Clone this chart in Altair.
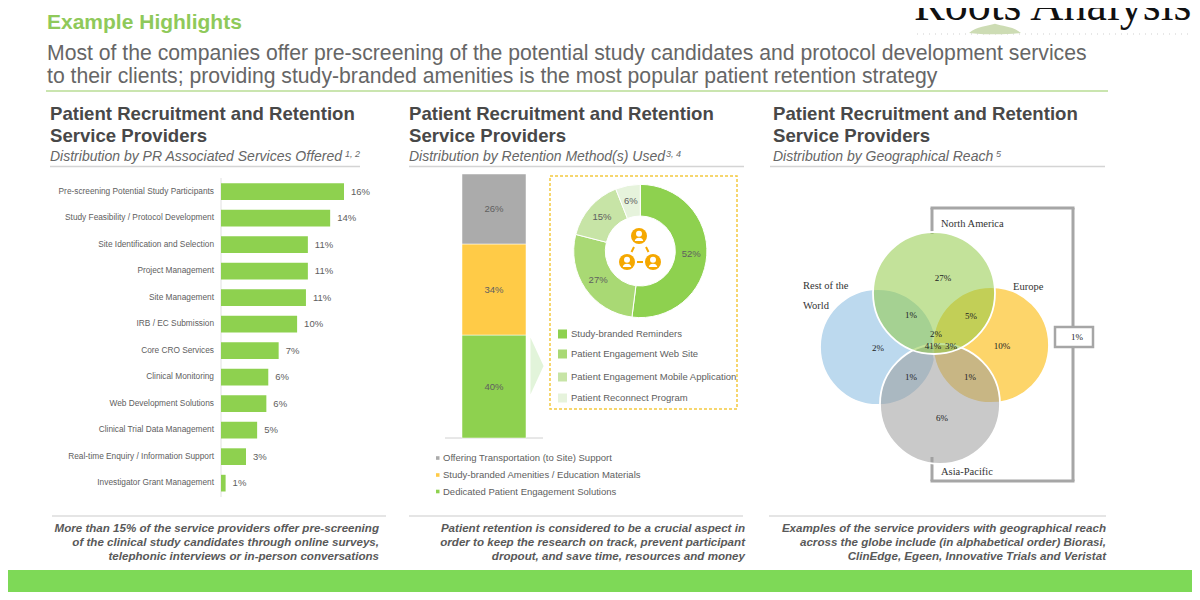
import altair as alt

# ---------- data ----------
services = ["Pre-screening Potential Study Participants", "Study Feasibility / Protocol Development",
            "Site Identification and Selection", "Project Management", "Site Management",
            "IRB / EC Submission", "Core CRO Services", "Clinical Monitoring",
            "Web Development Solutions", "Clinical Trial Data Management",
            "Real-time Enquiry / Information Support", "Investigator Grant Management"]
service_values = [16.0, 14.2, 11.3, 11.3, 11.05, 9.9, 7.5, 6.15, 5.9, 4.7, 3.25, 0.6]
service_labels = ["16%", "14%", "11%", "11%", "11%", "10%", "7%", "6%", "6%", "5%", "3%", "1%"]

methods = ["Dedicated Patient Engagement Solutions", "Study-branded Amenities / Education Materials",
           "Offering Transportation (to Site) Support"]
method_values = [39.0, 34.5, 26.5]
method_labels = ["40%", "34%", "26%"]
method_colors = ["#8ed14f", "#ffcb47", "#ababab"]

engagement = ["Study-branded Reminders", "Patient Engagement Web Site",
              "Patient Engagement Mobile Application", "Patient Reconnect Program"]
engagement_values = [52, 27, 15, 6]
engagement_colors = ["#8ed14f", "#a9d974", "#c7e4a6", "#e6f3dc"]

venn_sets = ["Rest of the World", "Europe", "Asia-Pacific", "North America"]
venn_labels = ["27%", "1%", "5%", "2%", "2%", "41%", "3%", "10%", "1%", "1%", "6%", "1%"]

OFF = 8
def V(v):
    return alt.value(v - OFF)

ONE = alt.Data(values=[{"a": 1}])

def text(s, x, y, size, color="#595959", weight="normal", style="normal", align="left",
         font="Liberation Sans"):
    return alt.Chart(alt.Data(values=[{"t": s}])).mark_text(
        align=align, baseline="alphabetic", fontSize=size, color=color, fontWeight=weight,
        fontStyle=style, font=font).encode(x=V(x), y=V(y), text="t:N")

def hrule(x1, x2, y, color, w, dash=None):
    kw = {"strokeDash": dash} if dash else {}
    return alt.Chart(ONE).mark_rule(color=color, strokeWidth=w, **kw).encode(x=V(x1), x2=V(x2), y=V(y))

def vrule(x, y1, y2, color, w):
    return alt.Chart(ONE).mark_rule(color=color, strokeWidth=w).encode(x=V(x), y=V(y1), y2=V(y2))

def seg(x1, y1, x2, y2, color, w):
    return alt.Chart(ONE).mark_rule(color=color, strokeWidth=w).encode(x=V(x1), y=V(y1), x2=V(x2), y2=V(y2))

def box(x1, y1, x2, y2, **kw):
    return alt.Chart(ONE).mark_rect(**kw).encode(x=V(x1), x2=V(x2), y=V(y1), y2=V(y2))

def dot(x, y, r, color, **kw):
    return alt.Chart(ONE).mark_circle(size=4 * r * r, color=color, opacity=1, **kw).encode(x=V(x), y=V(y))

layers = []
GREY = "#606060"

# ---------- header ----------
layers += [
    text("Roots Analysis", 914, 20, 46, color="#111111", font="Liberation Serif"),
    hrule(917, 1188, 34, "#cfcfcf", 1, [1, 5]),
    alt.Chart(ONE).mark_point(shape="M-1,0.15C-0.7,-0.1 -0.3,-0.1 0,-0.2C0.3,-0.1 0.7,-0.1 1,0.15C0.5,0.22 -0.5,0.22 -1,0.15Z",
                              size=2700, filled=True, color="#cddcb4", opacity=1).encode(x=V(995), y=V(29)),
    text("Example Highlights", 47, 29, 21, color="#8fc95a", weight="bold"),
    text("Most of the companies offer pre-screening of the potential study candidates and protocol development services", 47, 60, 21.2, color="#666666"),
    text("to their clients; providing study-branded amenities is the most popular patient retention strategy", 47, 83, 21.2, color="#666666"),
    hrule(46, 1108, 91, "#b9dc95", 1.5),
]
for x0, x1, x2, sub, sup, supx in [
    (50, 50, 360, "Distribution by PR Associated Services Offered", "1, 2", 345),
    (409, 409, 744, "Distribution by Retention Method(s) Used", "3, 4", 666),
    (773, 770, 1105, "Distribution by Geographical Reach", "5", 996),
]:
    layers += [
        text("Patient Recruitment and Retention", x0, 120, 18.6, color="#484848", weight="bold"),
        text("Service Providers", x0, 142, 18.6, color="#484848", weight="bold"),
        text(sub, x0, 161, 14, style="italic", color="#666666"),
        text(sup, supx, 157, 9, style="italic", color="#666666"),
        hrule(x1, x2, 166.5, "#d4d4d4", 1.5),
    ]

# ---------- panel 1: bars ----------
svc = alt.Data(values=[{"s": s, "v": v, "l": l} for s, v, l in zip(services, service_values, service_labels)])
bar_y = alt.Y("s:N", sort=None, axis=None,
              scale=alt.Scale(domain=services, range=[178.4 - OFF, 496.4 - OFF], paddingInner=0.37, paddingOuter=0.185))
bar_x = alt.X("v:Q", axis=None, scale=alt.Scale(domain=[0, 16], range=[221 - OFF, 344 - OFF], nice=False, zero=True))
layers += [
    vrule(221, 178, 497, "#e0e0e0", 1),
    alt.Chart(svc).mark_bar(color="#8ed14f").encode(x=bar_x, y=bar_y),
    alt.Chart(svc).mark_text(align="left", dx=7, fontSize=9.5, color=GREY, font="Liberation Sans").encode(x=bar_x, y=bar_y, text="l:N"),
    alt.Chart(svc).mark_text(align="right", fontSize=8.3, color=GREY, font="Liberation Sans").encode(x=V(214), y=bar_y, text="s:N"),
]

# ---------- panel 2: stacked bar ----------
mth = alt.Data(values=[{"m": m, "v": v, "l": l, "o": i} for i, (m, v, l) in enumerate(zip(methods, method_values, method_labels))])
stk_scale = alt.Scale(domain=[0, 100], range=[438 - OFF, 174 - OFF], nice=False)
stacked = alt.Chart(mth).transform_stack(stack="v", groupby=[], as_=["s0", "s1"], sort=[alt.SortField("o")])
layers += [
    hrule(445, 543, 438, "#d0d0d0", 1),
    stacked.mark_rect(stroke="#ffffff", strokeWidth=0.5).encode(
        x=V(462), x2=V(526),
        y=alt.Y("s0:Q", axis=None, scale=stk_scale), y2="s1:Q",
        color=alt.Color("m:N", legend=None, scale=alt.Scale(domain=methods, range=method_colors))),
    stacked.transform_calculate(mid="(datum.s0+datum.s1)/2").mark_text(fontSize=9.5, color=GREY, font="Liberation Sans").encode(
        x=V(494), y=alt.Y("mid:Q", axis=None, scale=stk_scale), text="l:N"),
    alt.Chart(ONE).mark_point(shape="M-0.23,-1L0.23,0L-0.23,1Z", filled=True, color="#e2f4da", opacity=1, size=3249).encode(x=V(537), y=V(366)),
    box(550, 176, 737, 409, fill="#ffffff", stroke="#f4c93f", strokeWidth=1.5, strokeDash=[3, 2]),
]
for name, col, y in zip(methods, method_colors, [491.5, 475, 458]):
    layers += [box(436, y - 1.8, 439.5, y + 1.8, fill=col), text(name, 443, y + 3, 9.5, font="Liberation Sans", color=GREY)]

# ---------- donut ----------
eng = alt.Data(values=[{"e": e, "v": v, "l": f"{v}%", "o": i} for i, (e, v) in enumerate(zip(engagement, engagement_values))])
layers += [
    alt.Chart(eng).mark_arc(radius=66.6, radius2=35, stroke="#ffffff", strokeWidth=1).encode(
        x=V(640.3), y=V(251), theta=alt.Theta("v:Q", stack=True, scale=alt.Scale(domain=[0, 100])),
        order=alt.Order("o:Q"),
        color=alt.Color("e:N", legend=None, scale=alt.Scale(domain=engagement, range=engagement_colors))),
    alt.Chart(eng).mark_text(radius=51, fontSize=9.5, color=GREY, font="Liberation Sans").encode(
        x=V(640.3), y=V(251), theta=alt.Theta("v:Q", stack=True, scale=alt.Scale(domain=[0, 100])),
        order=alt.Order("o:Q"), text="l:N"),
]
for name, col, y in zip(engagement, engagement_colors, [334, 354, 377, 398]):
    layers += [box(558, y - 4.5, 567, y + 4.5, fill=col), text(name, 571, y + 3, 9.5, color=GREY)]

ORANGE = "#f5a800"
layers += [seg(631.5, 252, 634, 247, ORANGE, 2), seg(646, 247, 648.5, 252, ORANGE, 2), seg(637, 262, 643, 262, ORANGE, 2)]
for cx, cy in [(639, 236), (627, 262), (653, 262)]:
    layers += [
        dot(cx, cy, 8, ORANGE),
        dot(cx, cy - 2.2, 3, "#ffffff"),
        alt.Chart(ONE).mark_point(shape="M-1,0.5C-1,-0.6 1,-0.6 1,0.5Z", filled=True, color="#ffffff", opacity=1, size=70).encode(x=V(cx), y=V(cy + 3)),
    ]

# ---------- panel 3: venn ----------
FRAME = "#a6a6a6"
layers += [
    vrule(932, 208, 234, FRAME, 3), vrule(932, 457, 481, FRAME, 3),
    hrule(930.5, 1074.5, 208, FRAME, 3), hrule(930.5, 1074.5, 481, FRAME, 3),
    vrule(1073, 208, 481, FRAME, 3),
    box(1055, 327, 1093, 347, fill="#ffffff", stroke=FRAME, strokeWidth=2.5),
]
circles = [("Rest of the World", 878, 347, 58, "#bcd9ee", 1),
           ("Europe", 991, 345, 58, "#fdd56a", 1),
           ("Asia-Pacific", 940, 404, 60, "#9b9b9b", 0.54),
           ("North America", 934, 293, 61, "#91ca47", 0.55)]
for _, cx, cy, r, col, a in circles:
    layers.append(alt.Chart(ONE).mark_circle(size=4 * r * r, fill=col, fillOpacity=a, stroke="#ffffff", strokeOpacity=1,
                                             strokeWidth=1.8, opacity=1).encode(x=V(cx), y=V(cy)))
venn_pos = [(943, 281), (911, 318), (971, 319), (936, 337), (878, 351), (933, 349), (951, 349), (1002, 349),
            (911, 380), (970, 380), (942, 421), (1077, 340)]
for lab, (x, y) in zip(venn_labels, venn_pos):
    layers.append(text(lab, x, y, 9, color="#222222", align="center", font="Liberation Serif"))
layers += [
    text("North America", 941, 227, 10.5, color="#333333", font="Liberation Serif"),
    text("Rest of the", 803, 289, 10.5, color="#333333", font="Liberation Serif"),
    text("World", 803, 309, 10.5, color="#333333", font="Liberation Serif"),
    text("Europe", 1013, 290, 10.5, color="#333333", font="Liberation Serif"),
    text("Asia-Pacific", 941, 475, 10.5, color="#333333", font="Liberation Serif"),
]

# ---------- footers ----------
footers = [
    (52, 386, 379, ["More than 15% of the service providers offer pre-screening",
                    "of the clinical study candidates through online surveys,",
                    "telephonic interviews or in-person conversations"]),
    (409, 743, 745, ["Patient retention is considered to be a crucial aspect in",
                     "order to keep the research on track, prevent participant",
                     "dropout, and save time, resources and money"]),
    (769, 1106, 1106, ["Examples of the service providers with geographical reach",
                       "across the globe include (in alphabetical order) Biorasi,",
                       "ClinEdge, Egeen, Innovative Trials and Veristat"]),
]
for x1, x2, xr, lines in footers:
    layers.append(hrule(x1, x2, 516, "#dcdcdc", 1.5))
    for ln, y in zip(lines, [531.5, 545.5, 560]):
        layers.append(text(ln, xr, y, 11.6, weight="bold", style="italic", align="right"))

# ---------- green band ----------
layers += [box(8, 570, 1192, 592, fill="#7ed957")]

chart = alt.layer(*layers).resolve_scale(
    x="independent", y="independent", color="independent", theta="independent").properties(
    width=1184, height=584, padding=0, autosize=alt.AutoSizeParams(type="none"), background="#ffffff"
).configure_view(stroke=None)

chart.save("out.html", embed_options={"renderer": "svg", "actions": False})
